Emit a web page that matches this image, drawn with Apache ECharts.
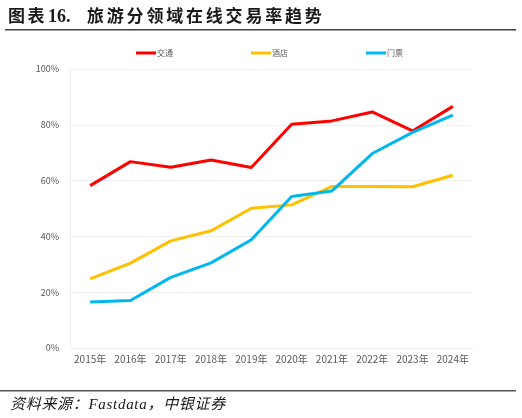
<!DOCTYPE html>
<html><head><meta charset="utf-8">
<script src="https://cdn.jsdelivr.net/npm/echarts@6/dist/echarts.min.js"></script>
<style>html,body{margin:0;padding:0;background:#fff}#c{width:522px;height:418px}</style>
</head><body><div id="c"></div>
<script>
var categories = ['2015年','2016年','2017年','2018年','2019年','2020年','2021年','2022年','2023年','2024年'];
var seriesNames = ['交通','酒店','门票'];
var traffic = [58.2, 66.8, 64.8, 67.4, 64.7, 80.2, 81.4, 84.6, 77.8, 86.6];
var hotel = [24.8, 30.4, 38.4, 42.0, 50.1, 51.3, 57.9, 57.9, 57.8, 61.9];
var ticket = [16.5, 17.0, 25.3, 30.5, 38.8, 54.3, 56.3, 69.7, 77.3, 83.5];
var colors = ['#FF0000', '#FFC000', '#00B8F0'];
var titleParts = ['图表', '16.', '旅游分领域在线交易率趋势'];
var sourceText = '资料来源：Fastdata，中银证券';

var font = '"Noto Sans CJK SC", "Noto Sans", sans-serif';
var mctx = document.createElement('canvas').getContext('2d');
function spaced(text, x0, yc, cssFont, ls, fill) {
  mctx.font = cssFont;
  var out = [], x = x0;
  for (var i = 0; i < text.length; i++) {
    var ch = text[i];
    out.push({type: 'text', x: x, y: yc, style: {text: ch, font: cssFont, fill: fill, textVerticalAlign: 'middle', verticalAlign: 'middle'}});
    x += mctx.measureText(ch).width + ls;
  }
  return out;
}
var titleFont = 'bold 17px "Noto Sans CJK SC", sans-serif';
var titleNumFont = 'bold 18px "Liberation Serif", serif';
var srcFont = 'italic 15px "Liberation Serif", "Noto Sans CJK SC", serif';
var graphics = [].concat(
  spaced(titleParts[0], 8, 16, titleFont, 2.6, '#1a1a1a'),
  [{type: 'text', x: 48, y: 17, style: {text: titleParts[1], font: titleNumFont, fill: '#1a1a1a', textVerticalAlign: 'middle', verticalAlign: 'middle'}}],
  spaced(titleParts[2], 87, 16, titleFont, 2.8, '#1a1a1a'),
  [{type: 'rect', shape: {x: 5, y: 29, width: 511, height: 1.5}, style: {fill: '#404040'}},
   {type: 'rect', shape: {x: 0, y: 390, width: 516, height: 1.5}, style: {fill: '#555555'}}],
  spaced(sourceText, 10, 405, srcFont, 0.7, '#1a1a1a')
);

var chart = echarts.init(document.getElementById('c'));
chart.setOption({
  animation: false,
  color: colors,
  textStyle: {fontFamily: font},
  legend: {
    left: 131, top: 44, itemWidth: 20, itemHeight: 3, itemGap: 78, icon: 'rect',
    textStyle: {fontSize: 8, color: '#595959', fontFamily: font, padding: [0,0,0,-4]},
    data: seriesNames
  },
  grid: {left: 70, right: 49, top: 69, bottom: 70},
  xAxis: {
    type: 'category', data: categories, boundaryGap: true,
    axisLine: {lineStyle: {color: '#eeeeee'}}, axisTick: {show: false},
    axisLabel: {color: '#595959', fontSize: 10, margin: 6, interval: 0, fontFamily: font}
  },
  yAxis: {
    type: 'value', min: 0, max: 100, interval: 20,
    axisLine: {show: true, lineStyle: {color: '#eeeeee'}}, axisTick: {show: false},
    splitLine: {lineStyle: {color: '#eeeeee'}},
    axisLabel: {color: '#595959', fontSize: 9, margin: 11, formatter: '{value}%', fontFamily: font}
  },
  series: [
    {name: seriesNames[0], type: 'line', data: traffic, symbol: 'none', lineStyle: {width: 3}},
    {name: seriesNames[1], type: 'line', data: hotel, symbol: 'none', lineStyle: {width: 3}},
    {name: seriesNames[2], type: 'line', data: ticket, symbol: 'none', lineStyle: {width: 3}}
  ],
  graphic: graphics
});
</script></body></html>
